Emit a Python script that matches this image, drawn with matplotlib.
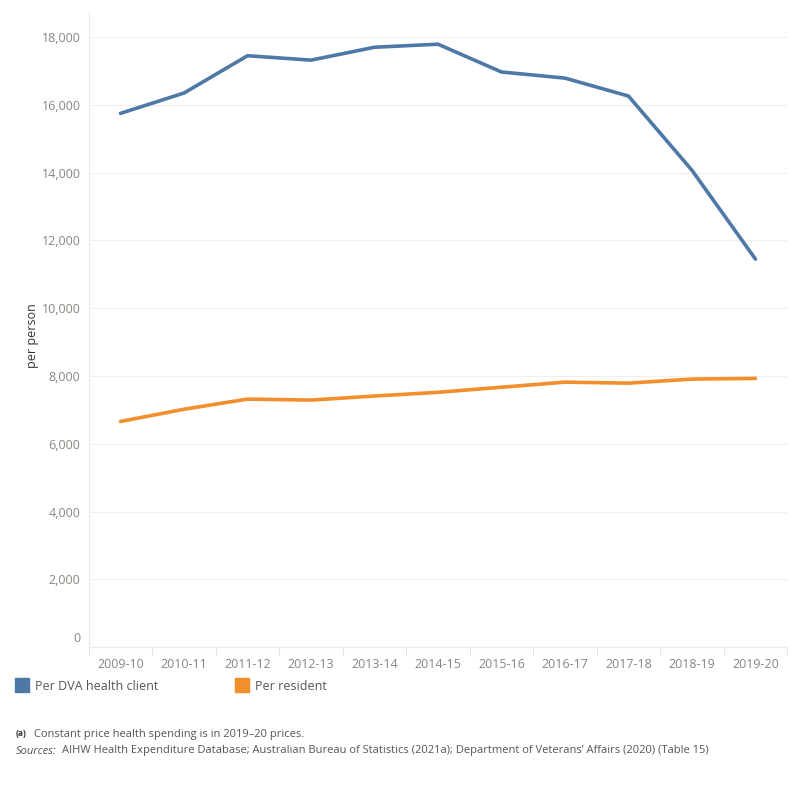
import matplotlib
matplotlib.use("Agg")
import matplotlib.pyplot as plt
import matplotlib.transforms as mtransforms
from matplotlib.patches import Rectangle

years = ["2009-10", "2010-11", "2011-12", "2012-13", "2013-14", "2014-15",
         "2015-16", "2016-17", "2017-18", "2018-19", "2019-20"]
per_dva_client = [15750, 16350, 17450, 17320, 17700, 17790, 16970, 16790, 16260, 14070, 11450]
per_resident = [6660, 7020, 7320, 7290, 7410, 7520, 7670, 7820, 7790, 7910, 7930]
yticks = [0, 2000, 4000, 6000, 8000, 10000, 12000, 14000, 16000, 18000]

BLUE = "#4e79a7"
ORANGE = "#f28e2b"
TICK_COL = "#8a8580"
TEXT_COL = "#555555"

plt.rcParams['font.family'] = ['Open Sans', 'DejaVu Sans']

fig = plt.figure(figsize=(8, 8), dpi=100)
ax = fig.add_axes([0.111, 0.191, 0.873, 0.794])

x = list(range(len(years)))
ax.plot(x, per_dva_client, color=BLUE, lw=2.6, solid_joinstyle='round', solid_capstyle='round')
ax.plot(x, per_resident, color=ORANGE, lw=2.6, solid_joinstyle='round', solid_capstyle='round')

ax.set_xlim(-0.5, len(years) - 0.5)
ax.set_ylim(0, 18740)
ax.set_yticks(yticks)
ax.set_yticklabels([f"{v:,}" for v in yticks])
ax.set_xticks(x)
ax.set_xticklabels(years)
ax.tick_params(axis='y', length=0, pad=6, labelsize=9, labelcolor=TICK_COL)
ax.tick_params(axis='x', length=0, pad=8, labelsize=9, labelcolor=TICK_COL)

# shift the "0" label upward as in the reference
lbl0 = ax.get_yticklabels()[0]
lbl0.set_transform(lbl0.get_transform() + mtransforms.ScaledTranslation(0, 10 / 100, fig.dpi_scale_trans))

ax.grid(axis='y', color='#efefef', lw=0.8)
ax.set_axisbelow(True)
for s in ['top', 'right']:
    ax.spines[s].set_visible(False)
ax.spines['left'].set_color('#ececec')
ax.spines['bottom'].set_color('#ececec')

# category separators below axis
for i in range(len(years) + 1):
    ax.plot([i - 0.5, i - 0.5], [0, -0.012], transform=ax.get_xaxis_transform(),
            color='#e6e6e6', lw=0.8, clip_on=False)

ax.set_ylabel("per person", fontsize=9, color='#333333')
ax.yaxis.set_label_coords(-0.072, 0.49)

# legend
fig.patches.append(Rectangle((15 / 800, 1 - 692 / 800), 14 / 800, 14 / 800,
                             transform=fig.transFigure, color=BLUE))
fig.text(35 / 800, 1 - 686 / 800, "Per DVA health client", fontsize=9, color=TEXT_COL, va='center')
fig.patches.append(Rectangle((235 / 800, 1 - 692 / 800), 14 / 800, 14 / 800,
                             transform=fig.transFigure, color=ORANGE))
fig.text(255 / 800, 1 - 686 / 800, "Per resident", fontsize=9, color=TEXT_COL, va='center')

# footnotes
fig.text(16 / 800, 1 - 733 / 800, "(a)", fontsize=6, fontweight='bold', color='#333333', va='center')
fig.text(34 / 800, 1 - 735 / 800, "Constant price health spending is in 2019\u201320 prices.",
         fontsize=8, color=TEXT_COL, va='center')
fig.text(16 / 800, 1 - 751 / 800, "Sources:", fontsize=8, style='italic', color=TEXT_COL, va='center')
fig.text(62 / 800, 1 - 751 / 800,
         "AIHW Health Expenditure Database; Australian Bureau of Statistics (2021a); "
         "Department of Veterans\u2019 Affairs (2020) (Table 15)",
         fontsize=8, color=TEXT_COL, va='center')

fig.savefig("out.png", dpi=100)
